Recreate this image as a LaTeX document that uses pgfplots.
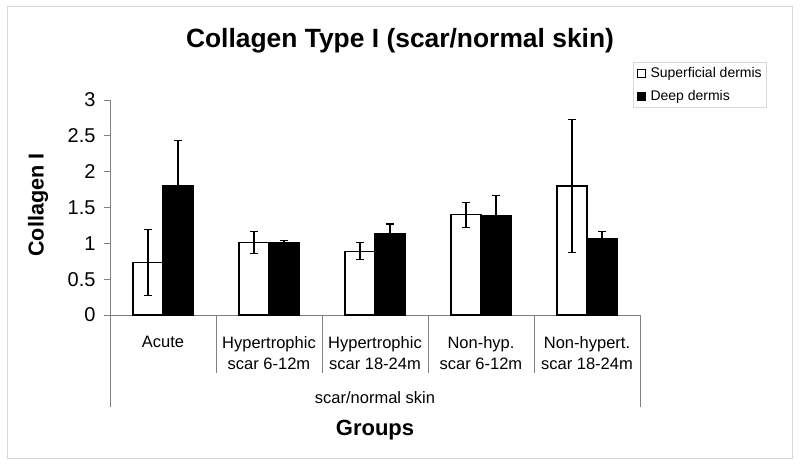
\documentclass[border=0pt]{standalone}
\usepackage{fontspec}
\setmainfont{Liberation Sans}
\usepackage{pgfplots}
\usepackage{pgfplotstable}
\pgfplotsset{compat=1.18}
\definecolor{axisgray}{RGB}{128,128,128}
\definecolor{framegray}{RGB}{215,215,215}
\pgfplotstableread{
x sup supErr deep deepErr
0 0.73 0.46 1.80 0.64
1 1.01 0.155 1.01 0.03
2 0.89 0.12 1.13 0.14
3 1.40 0.175 1.39 0.28
4 1.80 0.93 1.06 0.105
}\datatable
\begin{document}
\begin{tikzpicture}[x=1pt,y=1pt]
\path (0,0) rectangle (800,468);
\draw[framegray, line width=1pt] (7,9) rectangle (792,461);
\begin{axis}[
  at={(110pt,153pt)}, anchor=south west,
  width=530pt, height=215pt, scale only axis,
  xmin=-0.5, xmax=4.5, ymin=0, ymax=3,
  axis x line*=bottom, axis y line*=left,
  axis line style={axisgray, line width=0.8pt},
  ytick={0,0.5,1,1.5,2,2.5,3},
  tick align=outside, major tick length=6pt,
  y tick style={axisgray, line width=0.8pt},
  xtick={0,1,2,3,4}, xtick style={draw=none},
  xticklabels={Acute,{Hypertrophic\\scar 6-12m},{Hypertrophic\\scar 18-24m},{Non-hyp.\\scar 6-12m},{Non-hypert.\\scar 18-24m}},
  xticklabel style={align=center, anchor=north, font=\fontsize{16.5}{21}\selectfont, yshift=-12pt},
  yticklabel style={font=\fontsize{20}{22}\selectfont, xshift=-5pt},
  /pgf/number format/assume math mode=true,
  ybar, bar width=0.283,
  clip=false,
  legend style={at={(0.987,1.177)}, anchor=north west, draw=framegray, line width=0.8pt,
    font=\fontsize{14}{16}\selectfont, inner xsep=3pt, inner ysep=3.5pt, row sep=7pt,
    cells={anchor=west}},
]
\addplot[draw=black, fill=white, line width=1.2pt, bar shift=-0.1415,
  error bars/.cd, y dir=both, y explicit,
  error bar style={line width=1.2pt, black},
  error mark options={rotate=90, mark size=4pt, line width=1.2pt, black},
  /pgfplots/legend image code/.code={\draw[black, fill=white, line width=0.8pt] (0pt,-4pt) rectangle (8pt,4pt); \path (11pt,0pt);}]
  table[x=x, y=sup, y error=supErr] {\datatable};
\addlegendentry{Superficial dermis}
\addplot[draw=black, fill=black, line width=1.2pt, bar shift=0.1415,
  error bars/.cd, y dir=both, y explicit,
  error bar style={line width=1.2pt, black},
  error mark options={rotate=90, mark size=4pt, line width=1.2pt, black},
  /pgfplots/legend image code/.code={\draw[black, fill=black, line width=0.8pt] (0pt,-4pt) rectangle (8pt,4pt); \path (11pt,0pt);}]
  table[x=x, y=deep, y error=deepErr] {\datatable};
\addlegendentry{Deep dermis}
\draw[axisgray, line width=0.8pt] (axis cs:-0.5,0) -- ++(0pt,-92pt);
\draw[axisgray, line width=0.8pt] (axis cs:0.5,0) -- ++(0pt,-57.7pt);
\draw[axisgray, line width=0.8pt] (axis cs:1.5,0) -- ++(0pt,-57.7pt);
\draw[axisgray, line width=0.8pt] (axis cs:2.5,0) -- ++(0pt,-57.7pt);
\draw[axisgray, line width=0.8pt] (axis cs:3.5,0) -- ++(0pt,-57.7pt);
\draw[axisgray, line width=0.8pt] (axis cs:4.5,0) -- ++(0pt,-92pt);
\end{axis}
\node[font=\bfseries\fontsize{26.4}{30}\selectfont] at (400,427) {Collagen Type I (scar/normal skin)};
\node[rotate=90, font=\bfseries\fontsize{21.6}{24}\selectfont] at (38,263) {Collagen I};
\node[font=\fontsize{16.5}{20}\selectfont] at (375,70) {scar/normal skin};
\node[font=\bfseries\fontsize{22}{26}\selectfont] at (375,38) {Groups};
\end{tikzpicture}
\end{document}
